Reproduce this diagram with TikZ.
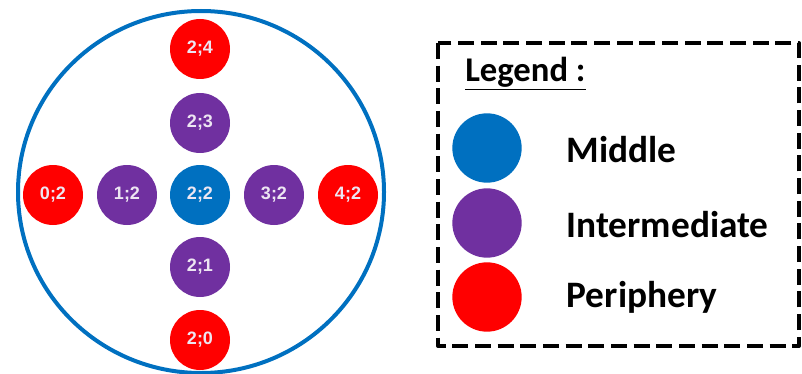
\documentclass[tikz,border=0pt]{standalone}
\usepackage{fontspec}
\setmainfont{Carlito}
\newfontfamily\cellfont{Liberation Sans}
\definecolor{midblue}{HTML}{0070C0}
\definecolor{midpurple}{HTML}{7030A0}
\definecolor{midred}{HTML}{FF0000}
\definecolor{celltext}{HTML}{EDE6F2}

\begin{document}
\begin{tikzpicture}[x=0.75pt,y=-0.75pt,
    cell/.style={circle,minimum size=45pt,inner sep=0pt,text=celltext,
      font=\cellfont\bfseries\fontsize{13.5}{14}\selectfont},
    middle/.style={cell,fill=midblue},
    inter/.style={cell,fill=midpurple},
    peri/.style={cell,fill=midred},
    keydot/.style={circle,minimum size=52pt,inner sep=0pt},
    keytext/.style={anchor=west,font=\bfseries\fontsize{28}{30}\selectfont}]
  \useasboundingbox (0,0) rectangle (802,374);

  % Outer circle
  \draw[midblue,line width=3pt] (201,192) circle [x radius=183,y radius=181];

  % Cells of the grid
  \node[middle] (c22) at (200,195) {2;2};
  \node[inter] (c23) at (200,123) {2;3};
  \node[inter] (c21) at (200,267) {2;1};
  \node[inter] (c12) at (127,195) {1;2};
  \node[inter] (c32) at (274,195) {3;2};
  \node[peri] (c24) at (200,49) {2;4};
  \node[peri] (c20) at (200,340) {2;0};
  \node[peri] (c02) at (53,195) {0;2};
  \node[peri] (c42) at (348,195) {4;2};

  % Legend box
  \draw[line width=3pt,dash pattern=on 12pt off 5pt,line join=round]
    (438,43) rectangle (799,346);
  \node[anchor=base west,inner sep=0pt,font=\bfseries\fontsize{26}{28}\selectfont] (title) at (465,82)
    {\underline{Legend :}};

  \node[keydot,fill=midblue] (kmid) at (487,148) {};
  \node[keydot,fill=midpurple] (kint) at (487,223) {};
  \node[keydot,fill=midred] (kper) at (487,297) {};
  \node[keytext] (tmid) at (562,150) {Middle};
  \node[keytext] (tint) at (562,225) {Intermediate};
  \node[keytext] (tper) at (562,297) {Periphery};
\end{tikzpicture}
\end{document}
